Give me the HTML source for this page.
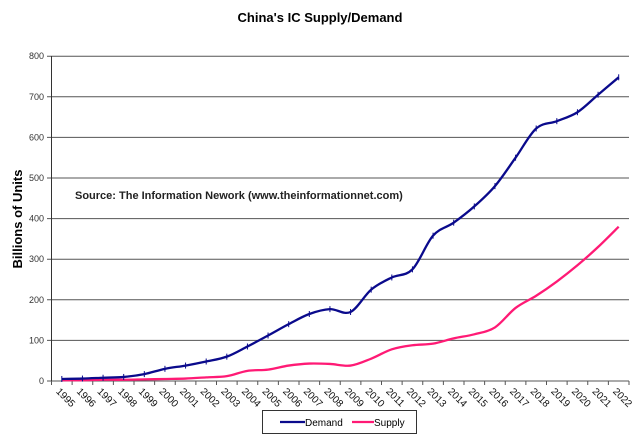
<!DOCTYPE html>
<html><head><meta charset="utf-8"><style>
body{margin:0;background:#fff;}
svg{display:block;font-family:"Liberation Sans",Arial,sans-serif;}
</style></head><body>
<svg id="s" width="640" height="434" viewBox="0 0 640 434" xmlns="http://www.w3.org/2000/svg">
<text x="320" y="22" text-anchor="middle" font-size="13" font-weight="bold">China's IC Supply/Demand</text>
<g id="grid" stroke="#555" stroke-width="1"></g>
<line x1="51.5" y1="56" x2="51.5" y2="381" stroke="#333"/>
<g id="yl" font-size="9" fill="#333" text-anchor="end"></g>
<g id="xl" font-size="10" fill="#111"></g>
<text transform="translate(22,219) rotate(-90)" text-anchor="middle" font-size="13" font-weight="bold">Billions of Units</text>
<text x="75" y="199" font-size="11" font-weight="bold" fill="#222">Source: The Information Nework (www.theinformationnet.com)</text>
<path id="sup" fill="none" stroke="#ff1a75" stroke-width="2.3"/>
<path id="dem" fill="none" stroke="#0a0a8c" stroke-width="2.3"/>
<g id="mk" stroke="#0a0a8c" stroke-width="1"></g>
<rect x="262.5" y="410.5" width="154" height="23" fill="#fff" stroke="#333"/>
<line x1="280" y1="422" x2="305" y2="422" stroke="#0a0a8c" stroke-width="2.3"/>
<text x="305" y="426" font-size="10">Demand</text>
<line x1="352" y1="422" x2="374" y2="422" stroke="#ff1a75" stroke-width="2.3"/>
<text x="374" y="426" font-size="10">Supply</text>
</svg>
<script>
const ns="http://www.w3.org/2000/svg";
const X0=51.5,W=(629-51.5)/28,Y0=381,S=40.6/100;
const g=document.getElementById('grid'),yl=document.getElementById('yl'),xl=document.getElementById('xl');
for(let i=0;i<=8;i++){let y=Y0-i*40.6;let l=document.createElementNS(ns,'line');l.setAttribute('x1',47);l.setAttribute('x2',629);l.setAttribute('y1',y);l.setAttribute('y2',y);g.appendChild(l);
let t=document.createElementNS(ns,'text');t.setAttribute('x',44);t.setAttribute('y',y+3);t.textContent=i*100;yl.appendChild(t);}
for(let i=0;i<=28;i++){let x=X0+i*W;let l=document.createElementNS(ns,'line');l.setAttribute('x1',x);l.setAttribute('x2',x);l.setAttribute('y1',381);l.setAttribute('y2',385);g.appendChild(l);}
for(let i=0;i<28;i++){let x=X0+i*W+4,y=392;let t=document.createElementNS(ns,'text');t.setAttribute('transform',`translate(${x},${y}) rotate(45)`);t.textContent=1995+i;xl.appendChild(t);}
const D=[5,6,8,10,17,30,38,48,60,85,112,140,165,177,170,225,255,275,358,390,430,480,550,622,640,662,705,748];
const Su=[2,2,3,3,4,5,6,9,12,25,28,38,43,42,38,55,78,88,92,105,115,132,180,210,245,285,330,380];
function pts(a){return a.map((v,i)=>[X0+(i+0.5)*W,Y0-v*S]);}
function path(p){let d=`M${p[0][0]},${p[0][1]}`;for(let i=0;i<p.length-1;i++){let p0=p[i-1]||p[i],p1=p[i],p2=p[i+1],p3=p[i+2]||p2;
let c1=[p1[0]+(p2[0]-p0[0])/6,p1[1]+(p2[1]-p0[1])/6],c2=[p2[0]-(p3[0]-p1[0])/6,p2[1]-(p3[1]-p1[1])/6];
d+=`C${c1[0]},${c1[1]} ${c2[0]},${c2[1]} ${p2[0]},${p2[1]}`;}return d;}
document.getElementById('dem').setAttribute('d',path(pts(D)));
document.getElementById('sup').setAttribute('d',path(pts(Su)));
const mk=document.getElementById('mk');
pts(D).forEach(p=>{let l=document.createElementNS(ns,'line');l.setAttribute('x1',p[0]);l.setAttribute('x2',p[0]);l.setAttribute('y1',p[1]-3);l.setAttribute('y2',p[1]+3);mk.appendChild(l);});
</script>
</body></html>
